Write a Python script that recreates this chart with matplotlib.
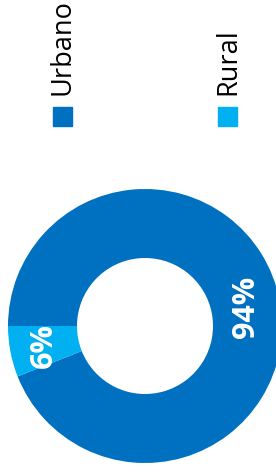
import matplotlib.pyplot as plt
from matplotlib.patches import Rectangle

# datos
categorias = ['Urbano', 'Rural']
valores = [94, 6]
colores = ['#0070C0', '#00B0F0']

plt.rcParams['font.family'] = ['Open Sans', 'DejaVu Sans']

fig = plt.figure(figsize=(2.76, 4.72), dpi=100)
ax = fig.add_axes([0, 0, 1, 1])

# dona (grafico girado 90 grados)
wedges, textos, pcts = ax.pie(valores, colors=colores, startangle=180, counterclock=False,
                              center=(145, 146), radius=137,
                              wedgeprops=dict(width=69, linewidth=0),
                              autopct=lambda p: '%d%%' % round(p), pctdistance=0.75,
                              textprops=dict(color='white', fontsize=22, fontweight='bold', rotation=90))
for t in pcts:
    t.set_ha('center')
    t.set_va('center')

# leyenda manual, tambien girada
xs = [62, 227]
for i in range(len(categorias)):
    ax.add_patch(Rectangle((xs[i] - 9.5, 346), 19, 19, color=colores[i]))
    ax.text(xs[i] + 1, 377, categorias[i], rotation=90, ha='center', va='bottom',
            fontsize=19.5, color='black')

ax.set_xlim(0, 276)
ax.set_ylim(0, 472)
ax.set_aspect('equal')
ax.axis('off')

fig.savefig('out.png', dpi=100)
